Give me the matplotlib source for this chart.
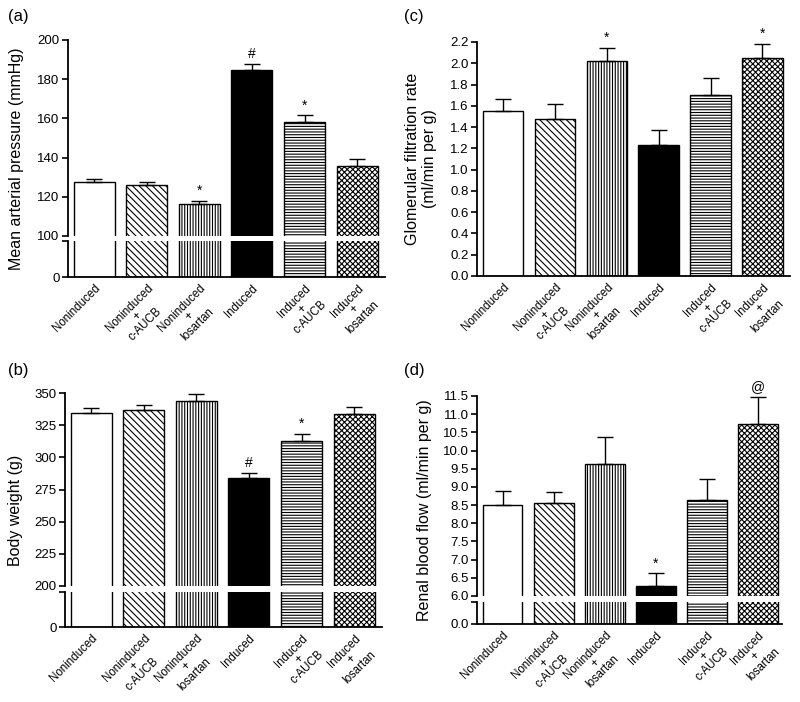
import matplotlib as mpl
mpl.use('Agg')

import matplotlib.pyplot as plt

plt.rcParams['font.family'] = ['Liberation Sans', 'DejaVu Sans']
plt.rcParams['hatch.linewidth'] = 0.8

groups = ['Noninduced', 'Noninduced\n+\nc-AUCB', 'Noninduced\n+\nlosartan',
          'Induced', 'Induced\n+\nc-AUCB', 'Induced\n+\nlosartan']

# (a) mean arterial pressure
map_mean = [127.4, 126.0, 116.2, 184.9, 158.2, 135.5]
map_err = [1.7, 1.7, 1.7, 2.9, 3.5, 3.8]
map_marks = ['', '', '*', '#', '*', '']

# (b) body weight
bw_mean = [334.4, 336.5, 343.5, 284.1, 312.6, 333.4]
bw_err = [3.7, 3.9, 6.0, 3.9, 5.5, 6.0]
bw_marks = ['', '', '', '#', '*', '']

# (c) glomerular filtration rate
gfr_mean = [1.555, 1.474, 2.022, 1.233, 1.703, 2.047]
gfr_err = [0.113, 0.147, 0.122, 0.141, 0.162, 0.137]
gfr_marks = ['', '', '*', '', '', '*']

# (d) renal blood flow
rbf_mean = [8.49, 8.57, 9.64, 6.28, 8.64, 10.74]
rbf_err = [0.40, 0.30, 0.73, 0.35, 0.59, 0.73]
rbf_marks = ['', '', '', '*', '', '@']

colors = ['white', 'white', 'white', 'black', 'white', 'white']
hatches = ['', '\\\\\\\\\\', '||||||', '', '------', 'xxxxxx']

W, H = 800, 702
fig = plt.figure(figsize=(W / 100, H / 100), dpi=100)


def rect(l, t, r, b):
    return [l / W, 1 - b / H, (r - l) / W, (b - t) / H]


def draw_bars(ax, mean, err=None, marks=None):
    x = list(range(len(mean)))
    for i in x:
        ax.bar(i, mean[i], width=0.78, color=colors[i], edgecolor='black',
               hatch=hatches[i], linewidth=1.0)
    if err is not None:
        ax.errorbar(x, mean, yerr=[[0] * len(mean), err], fmt='none', ecolor='black',
                    elinewidth=1, capsize=6, capthick=1)
        for i, m in enumerate(marks):
            if m:
                ax.annotate(m, (i, mean[i] + err[i]), xytext=(0, 2), textcoords='offset points',
                            ha='center', va='bottom', fontsize=10)


def style(ax):
    for s in ['top', 'right']:
        ax.spines[s].set_visible(False)
    for s in ['left', 'bottom']:
        ax.spines[s].set_linewidth(1.3)
    ax.tick_params(axis='y', length=4, width=1.2, labelsize=9.5, pad=2)
    ax.tick_params(axis='x', length=0, labelsize=8.3, pad=4)


def xlabels(ax):
    ax.set_xticks(range(len(groups)))
    ax.set_xticklabels(groups, rotation=45, ha='right', va='top', linespacing=0.9,
                       rotation_mode='anchor', multialignment='center')


def broken_panel(top_px, bot_px, mean, err, marks, ylim, yticks, fmt, zero_label, xmax):
    ax_t = fig.add_axes(rect(*top_px))
    ax_b = fig.add_axes(rect(*bot_px))
    draw_bars(ax_t, mean, err, marks)
    draw_bars(ax_b, mean)
    style(ax_t)
    style(ax_b)
    ax_t.spines['bottom'].set_visible(False)
    ax_t.set_xticks([])
    ax_t.set_ylim(*ylim)
    ax_t.set_yticks(yticks)
    ax_t.set_yticklabels([fmt % v for v in yticks])
    ax_t.set_xlim(-0.5, xmax)
    ax_b.set_xlim(-0.5, xmax)
    ax_b.set_ylim(0, 1)
    ax_b.set_yticks([0, 1])
    ax_b.set_yticklabels([zero_label, ''])
    xlabels(ax_b)
    return ax_t, ax_b


# (a)
broken_panel((68, 40, 385, 236), (68, 241, 385, 277), map_mean, map_err, map_marks,
             (100, 200), [100, 120, 140, 160, 180, 200], '%d', '0', 5.53)
# (b)
broken_panel((65, 393, 382, 586), (65, 592, 382, 627), bw_mean, bw_err, bw_marks,
             (200, 350), [200, 225, 250, 275, 300, 325, 350], '%d', '0', 5.53)
# (d)
broken_panel((477, 396, 782, 596), (477, 602, 782, 624), rbf_mean, rbf_err, rbf_marks,
             (6.0, 11.5), [6.0 + 0.5 * k for k in range(12)], '%.1f', '0.0', 5.47)

# (c)
ax_c = fig.add_axes(rect(477, 42, 790, 276))
draw_bars(ax_c, gfr_mean, gfr_err, gfr_marks)
style(ax_c)
ax_c.set_ylim(0, 2.2)
c_ticks = [0.2 * k for k in range(12)]
ax_c.set_yticks(c_ticks)
ax_c.set_yticklabels(['%.1f' % v for v in c_ticks])
ax_c.set_xlim(-0.5, 5.53)
xlabels(ax_c)

# y labels and panel letters
fig.text(17 / W, 1 - 159 / H, 'Mean arterial pressure (mmHg)', rotation=90,
         ha='center', va='center', fontsize=11.5)
fig.text(16 / W, 1 - 510 / H, 'Body weight (g)', rotation=90,
         ha='center', va='center', fontsize=11.5)
fig.text(421 / W, 1 - 159 / H, 'Glomerular filtration rate\n(ml/min per g)', rotation=90,
         ha='center', va='center', fontsize=11.5, multialignment='center')
fig.text(425 / W, 1 - 510 / H, 'Renal blood flow (ml/min per g)', rotation=90,
         ha='center', va='center', fontsize=11.5)

fig.text(18 / W, 1 - 16 / H, '(a)', ha='center', va='center', fontsize=12)
fig.text(414 / W, 1 - 16 / H, '(c)', ha='center', va='center', fontsize=12)
fig.text(18 / W, 1 - 370 / H, '(b)', ha='center', va='center', fontsize=12)
fig.text(414 / W, 1 - 370 / H, '(d)', ha='center', va='center', fontsize=12)

fig.savefig('out.png', dpi=100)
